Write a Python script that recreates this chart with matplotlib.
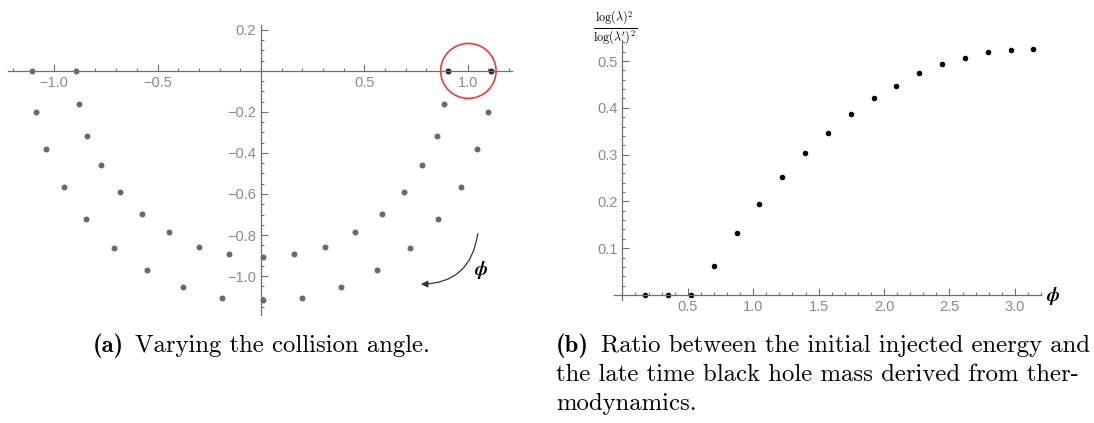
import matplotlib.pyplot as plt
from matplotlib.patches import Circle, FancyArrowPatch
from matplotlib.ticker import MultipleLocator, FixedLocator

plt.rcParams['mathtext.fontset'] = 'cm'
plt.rcParams['axes.unicode_minus'] = True

# (a) positions for the different collision angles
outer_x = [-1.105, -1.09, -1.037, -0.953, -0.846, -0.71, -0.553, -0.379, -0.189, 0.011,
           0.199, 0.388, 0.562, 0.722, 0.857, 0.965, 1.047, 1.10]
outer_y = [0.0, -0.2, -0.383, -0.566, -0.72, -0.863, -0.97, -1.054, -1.107, -1.117,
           -1.107, -1.054, -0.97, -0.863, -0.72, -0.566, -0.383, -0.2]
inner_x = [-0.893, -0.879, -0.84, -0.772, -0.68, -0.574, -0.445, -0.30, -0.152, 0.011,
           0.159, 0.312, 0.456, 0.584, 0.69, 0.78, 0.851, 0.887]
inner_y = [0.0, -0.163, -0.315, -0.46, -0.59, -0.696, -0.787, -0.857, -0.894, -0.909,
           -0.894, -0.857, -0.787, -0.696, -0.59, -0.46, -0.315, -0.163]
start_x = [0.906, 1.113]
start_y = [0.0, 0.0]

# (b) energy ratio vs angle
phi = [0.175, 0.349, 0.524, 0.698, 0.873, 1.047, 1.222, 1.396, 1.571,
       1.745, 1.920, 2.094, 2.269, 2.443, 2.618, 2.793, 2.967, 3.142]
ratio = [0.0, 0.0, 0.0, 0.063, 0.133, 0.195, 0.253, 0.303, 0.347,
         0.386, 0.420, 0.447, 0.474, 0.494, 0.507, 0.520, 0.523, 0.526]

tick_col = '#8a8a8a'
axis_col = '#707070'

fig = plt.figure(figsize=(10.94, 4.23), dpi=100)


def mma_axes(ax):
    for s in ['top', 'right']:
        ax.spines[s].set_visible(False)
    for s in ['left', 'bottom']:
        ax.spines[s].set_position(('data', 0))
        ax.spines[s].set_color(axis_col)
        ax.spines[s].set_linewidth(0.9)
    ax.tick_params(which='both', direction='in', color=axis_col, width=0.8,
                   labelcolor=tick_col, labelsize=10.5)
    ax.tick_params(which='major', length=5)
    ax.tick_params(which='minor', length=2.5)
    for lab in ax.get_xticklabels() + ax.get_yticklabels():
        lab.set_family('Liberation Sans')


# ---- left panel ----
ax1 = fig.add_axes([8 / 1094, 1 - 315 / 423, 504 / 1094, 290 / 423])
ax1.set_xlim(-1.223, 1.214)
ax1.set_ylim(-1.19, 0.224)
ax1.plot(outer_x, outer_y, 'o', color='#6a6a6a', ms=4.3, mew=0)
ax1.plot(inner_x, inner_y, 'o', color='#6a6a6a', ms=4.3, mew=0)
ax1.plot(start_x, start_y, 'o', color='#222222', ms=4.3, mew=0)
ax1.xaxis.set_major_locator(FixedLocator([-1.0, -0.5, 0.5, 1.0]))
ax1.xaxis.set_minor_locator(MultipleLocator(0.1))
ax1.yaxis.set_major_locator(FixedLocator([0.2, -0.2, -0.4, -0.6, -0.8, -1.0]))
ax1.yaxis.set_minor_locator(MultipleLocator(0.05))
ax1.xaxis.set_major_formatter(lambda v, p: f'{v:.1f}'.replace('-', '\u2212'))
ax1.yaxis.set_major_formatter(lambda v, p: f'{v:.1f}'.replace('-', '\u2212'))
mma_axes(ax1)
ax1.add_patch(Circle((1.003, 0.0), 0.134, fill=False, ec='#e83b3b', lw=1.2,
                     clip_on=False))
ax1.add_patch(FancyArrowPatch((1.05, -0.78), (0.76, -1.04),
                              connectionstyle='arc3,rad=-0.45',
                              arrowstyle='-|>', mutation_scale=10,
                              color='#333333', lw=0.9))
ax1.text(1.066, -0.97, r'$\boldsymbol{\phi}$', fontsize=14, ha='center',
         va='center')

# ---- right panel ----
ax2 = fig.add_axes([614 / 1094, 1 - 300 / 423, 427 / 1094, 260 / 423])
ax2.set_xlim(-0.064, 3.20)
ax2.set_ylim(-0.0107, 0.545)
ax2.plot(phi, ratio, 'o', color='black', ms=4, mew=0)
ax2.xaxis.set_major_locator(FixedLocator([0.5, 1.0, 1.5, 2.0, 2.5, 3.0]))
ax2.xaxis.set_minor_locator(MultipleLocator(0.1))
ax2.yaxis.set_major_locator(FixedLocator([0.1, 0.2, 0.3, 0.4, 0.5]))
ax2.yaxis.set_minor_locator(MultipleLocator(0.02))
ax2.xaxis.set_major_formatter(lambda v, p: f'{v:.1f}')
ax2.yaxis.set_major_formatter(lambda v, p: f'{v:.1f}')
mma_axes(ax2)
fig.text(1053 / 1094, 1 - 296 / 423, r'$\boldsymbol{\phi}$', fontsize=14,
         ha='center', va='center')
fig.text(615 / 1094, 1 - 28 / 423,
         r'$\frac{\log(\lambda)^2}{\log(\lambda^\prime)^2}$', fontsize=12.5,
         ha='center', va='center')

# ---- captions ----
cap = dict(fontsize=17.8, va='baseline', ha='left')
fig.text(93 / 1094, 1 - 352 / 423, '(a)', family='cmb10', **cap)
fig.text(135 / 1094, 1 - 352 / 423, 'Varying the collision angle.',
         family='cmr10', **cap)
fig.text(556 / 1094, 1 - 352 / 423, '(b)', family='cmb10', **cap)
fig.text(601 / 1094, 1 - 352 / 423,
         'Ratio between the initial injected energy and', family='cmr10', **cap)
fig.text(556 / 1094, 1 - 381 / 423,
         'the late time black hole mass derived from ther-', family='cmr10',
         **cap)
fig.text(556 / 1094, 1 - 410 / 423, 'modynamics.', family='cmr10', **cap)

fig.savefig('out.png', dpi=100)
